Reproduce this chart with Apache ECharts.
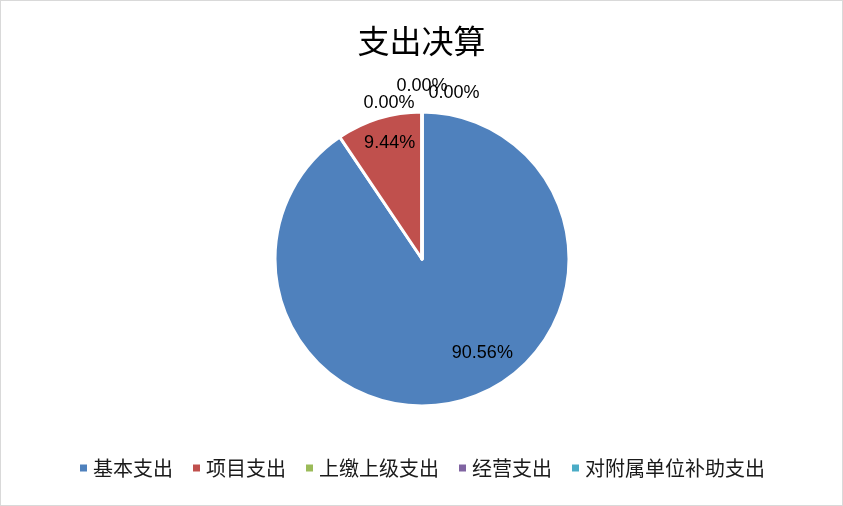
<!DOCTYPE html>
<html>
<head>
<meta charset="utf-8">
<script src="https://cdn.jsdelivr.net/npm/echarts@6/dist/echarts.min.js"></script>
<style>
  html, body { margin: 0; padding: 0; background: #fff; }
  #main { width: 843px; height: 506px; box-sizing: border-box; border: 1px solid #d9d9d9; }
</style>
</head>
<body>
<div id="main"></div>
<script>
var categories = ['基本支出', '项目支出', '上缴上级支出', '经营支出', '对附属单位补助支出'];
var values = [90.56, 9.44, 0, 0, 0];
var colors = ['#4F81BD', '#C0504D', '#9BBB59', '#8064A2', '#4BACC6'];
// label nudges so the labels sit like in the original
var labelOffsets = [[38, 21], [-10, -43], [-33, -79], [0, -96], [32, -89]];

var dom = document.getElementById('main');
var myChart = echarts.init(dom);

var pieData = categories.map(function (name, i) {
  return {
    name: name,
    value: values[i],
    itemStyle: { color: colors[i] },
    label: { offset: labelOffsets[i] }
  };
});

var option = {
  backgroundColor: '#ffffff',
  animation: false,
  title: {
    text: '支出决算',
    left: 'center',
    top: 19,
    textStyle: {
      fontFamily: 'Noto Sans CJK SC',
      fontWeight: 'normal',
      fontSize: 32,
      color: '#000'
    }
  },
  legend: {
    bottom: 22,
    left: 'center',
    icon: 'rect',
    itemWidth: 9,
    itemHeight: 9,
    itemGap: 18,
    textStyle: {
      fontFamily: 'Noto Sans CJK SC',
      fontSize: 20,
      color: '#1a1a1a'
    },
    data: categories
  },
  series: [{
    type: 'pie',
    center: [421, 258],
    radius: 147,
    startAngle: 90,
    clockwise: true,
    minShowLabelAngle: 0,
    stillShowZeroSum: true,
    avoidLabelOverlap: false,
    itemStyle: { borderColor: '#fff', borderWidth: 3 },
    label: {
      show: true,
      position: 'inside',
      formatter: function (p) { return p.value.toFixed(2) + '%'; },
      fontFamily: 'Liberation Sans',
      fontSize: 18,
      color: '#000'
    },
    labelLine: { show: false },
    labelLayout: { hideOverlap: false },
    emphasis: { disabled: true },
    data: pieData
  }]
};

myChart.setOption(option);
window.onresize = function () { myChart.resize(); };
</script>
</body>
</html>
